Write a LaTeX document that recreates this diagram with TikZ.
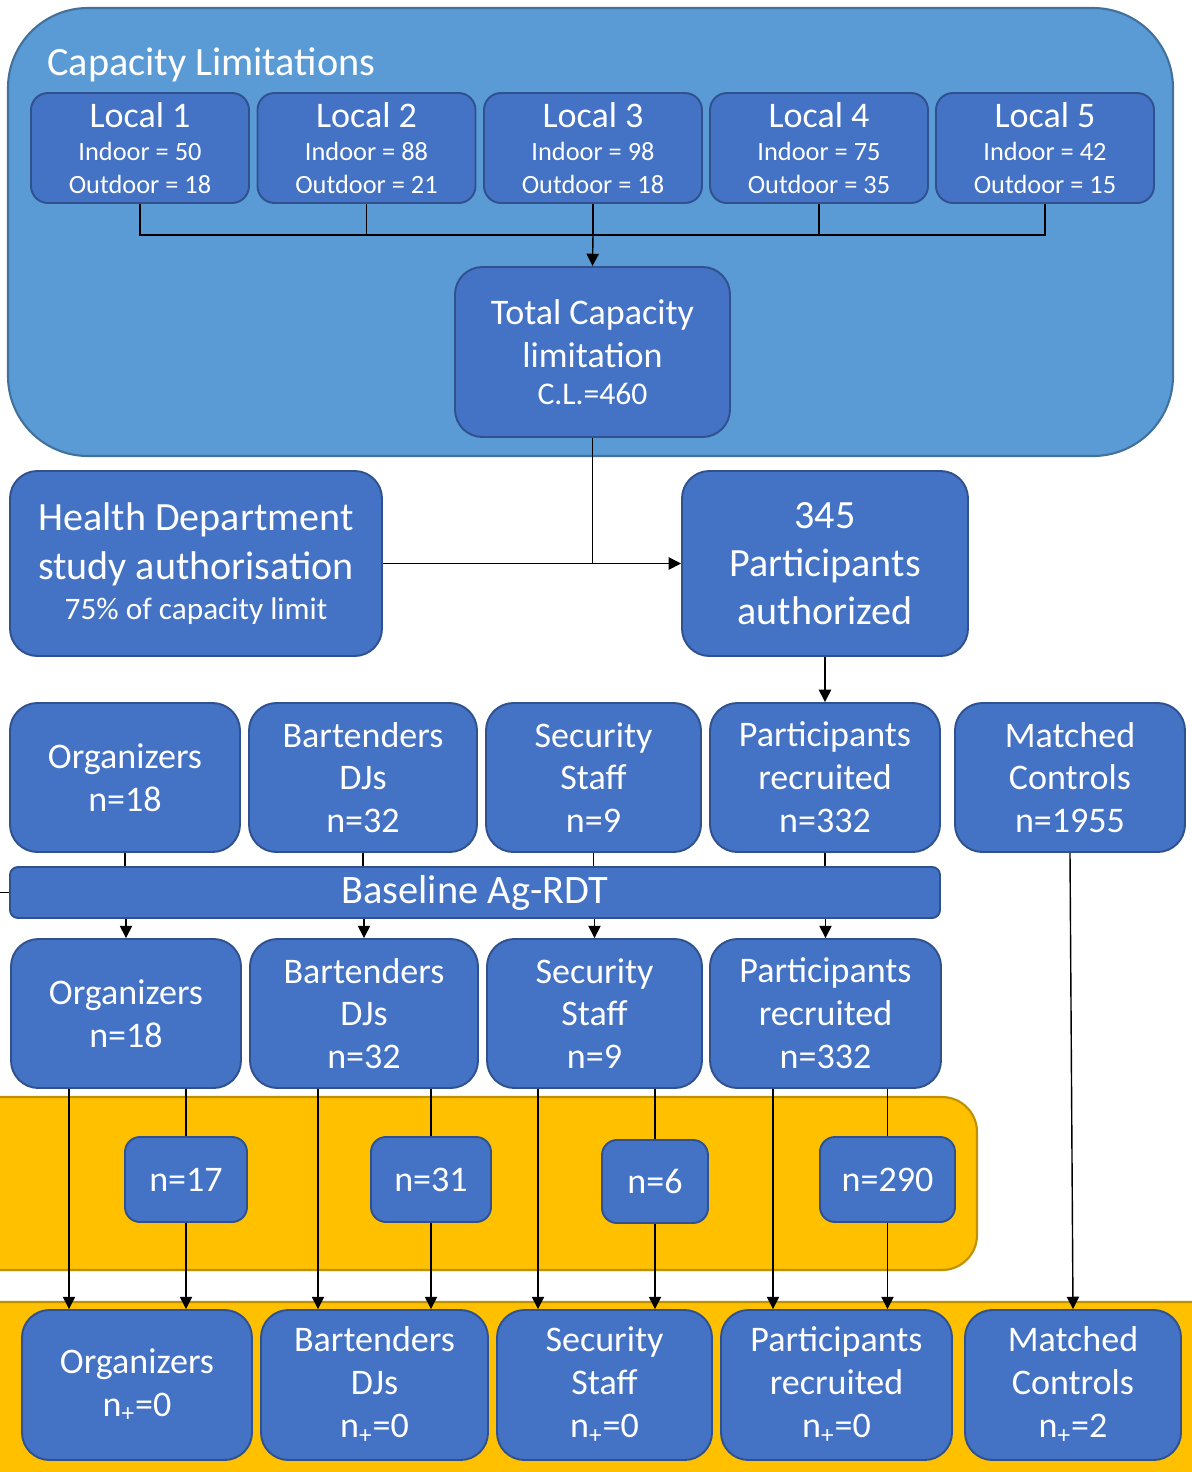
\documentclass[tikz,border=0pt]{standalone}
\usepackage{fontspec}
\setmainfont{Carlito}
\usetikzlibrary{arrows.meta}
\definecolor{boxblue}{HTML}{4472C4}
\definecolor{boxedge}{HTML}{2F528F}
\definecolor{capblue}{HTML}{5B9BD5}
\definecolor{capedge}{HTML}{41719C}
\definecolor{testyellow}{HTML}{FFC000}
\definecolor{testedge}{HTML}{BF9000}
\newcommand{\fs}[2]{\fontsize{#1}{#2}\selectfont}

\begin{document}
\begin{tikzpicture}[x=0.02cm, y=-0.02cm,
	sz/.style 2 args={minimum width=#1*0.02cm, minimum height=#2*0.02cm},
	box/.style={draw=boxedge, fill=boxblue, line width=1.1pt, rounded corners=0.55cm,
		text=white, align=center, inner sep=0pt, font=\fs{20.5}{24.4}},
	local/.style={box, rounded corners=0.34cm, sz={218}{110}, font=\fs{15}{19}},
	small/.style={box, rounded corners=0.3cm},
	arr/.style={-{Triangle[width=7pt,length=7pt]}},
	conn/.style={line width=0.8pt, black}]
	\useasboundingbox (0,0) rectangle (1192,1472);
	\clip (0,0) rectangle (1192,1472);

	% backgrounds
	\draw[fill=capblue, draw=capedge, line width=1.2pt, rounded corners=1.6cm] (8,8) rectangle (1173,456);
	\draw[fill=testyellow, draw=testedge, line width=1.2pt, rounded corners=0.7cm] (-40,1097) rectangle (977,1270);
	\draw[fill=testyellow, draw=testedge, line width=1.2pt, rounded corners=0.7cm] (-40,1302) rectangle (1232,1540);
	\node[anchor=base west, inner sep=0pt, text=white, font=\fs{22.9}{22.9}] (caption) at (47,75) {Capacity Limitations};

	% locals
	\node[local] (local1) at (140,148)   {{\fs{20.5}{20.5}Local 1}\\ Indoor = 50\\ Outdoor = 18};
	\node[local] (local2) at (366.5,148) {{\fs{20.5}{20.5}Local 2}\\ Indoor = 88\\ Outdoor = 21};
	\node[local] (local3) at (593,148)   {{\fs{20.5}{20.5}Local 3}\\ Indoor = 98\\ Outdoor = 18};
	\node[local] (local4) at (819,148)   {{\fs{20.5}{20.5}Local 4}\\ Indoor = 75\\ Outdoor = 35};
	\node[local] (local5) at (1045,148)  {{\fs{20.5}{20.5}Local 5}\\ Indoor = 42\\ Outdoor = 15};

	\node[box, sz={275}{170}] (total) at (592.5,352) {Total Capacity\\ limitation\\[-3pt] {\fs{18}{18}C.L.=460}};
	\node[box, sz={372}{185}, font=\fs{22.8}{27.8}] (health) at (196,563.5) {Health Department\\ study authorisation\\[-5pt] {\fs{17.8}{17.8}75\% of capacity limit}};
	\node[box, sz={286}{185}, font=\fs{22.8}{27.5}] (auth) at (825,563.5) {345\\ Participants\\ authorized};

	% recruited groups
	\node[box, sz={230}{149}] (org1) at (125,777.5)  {Organizers\\ n=18};
	\node[box, sz={228}{149}] (bar1) at (363,777.5)  {Bartenders\\ DJs\\ n=32};
	\node[box, sz={215}{149}] (sec1) at (593.5,777.5) {Security\\ Staff\\ n=9};
	\node[box, sz={230}{149}] (par1) at (825,777.5)  {Participants\\ recruited\\ n=332};
	\node[box, sz={230}{149}] (mat1) at (1070,777.5) {Matched\\ Controls\\ n=1955};

	\node[box, rounded corners=0.16cm, sz={930}{51}, font=\fs{23}{23}] (base) at (475,892.5) {Baseline Ag-RDT};

	\node[box, sz={230}{149}] (org2) at (126,1013.5)   {Organizers\\ n=18};
	\node[box, sz={228}{149}] (bar2) at (364,1013.5)   {Bartenders\\ DJs\\ n=32};
	\node[box, sz={215}{149}] (sec2) at (594.5,1013.5) {Security\\ Staff\\ n=9};
	\node[box, sz={231}{149}] (par2) at (825.5,1013.5) {Participants\\ recruited\\ n=332};

	\node[small, sz={122}{85}] (n17)  at (186,1179.5)   {n=17};
	\node[small, sz={120}{85}] (n31)  at (431,1179.5)   {n=31};
	\node[small, sz={106}{83}] (n6)   at (655,1181.5)   {n=6};
	\node[small, sz={135}{85}] (n290) at (887.5,1179.5) {n=290};

	\node[box, sz={230}{150}] (org3) at (137,1385)   {Organizers\\ n\textsubscript{+}=0};
	\node[box, sz={227}{150}] (bar3) at (374.5,1385) {Bartenders\\ DJs\\ n\textsubscript{+}=0};
	\node[box, sz={215}{150}] (sec3) at (604.5,1385) {Security\\ Staff\\ n\textsubscript{+}=0};
	\node[box, sz={231}{150}] (par3) at (836.5,1385) {Participants\\ recruited\\ n\textsubscript{+}=0};
	\node[box, sz={216}{150}] (mat3) at (1073,1385)  {Matched\\ Controls\\ n\textsubscript{+}=2};

	% connectors
	\coordinate (hub) at (593,235);
	\foreach \n in {local1,local2,local3,local4,local5}
		\draw[conn] (\n.south) |- (hub);
	\draw[conn, arr] (hub) -- (total.north);

	\coordinate (join) at (total.south |- auth.west);
	\draw[conn] (total.south) -- (join);
	\draw[conn] (health.east) -- (join);
	\draw[conn, arr] (join) -- (auth.west);
	\draw[conn, arr] (auth.south) -- (par1.north);

	\coordinate (stub) at (-10,892.5);
	\draw[conn] (base.west) -- (stub);
	\foreach \g in {org,bar,sec,par} {
		\draw[conn] (\g1.south) -- (\g1.south |- base.north);
		\draw[conn, arr] (\g2.north |- base.south) -- (\g2.north);
	}
	\draw[conn, arr] (mat1.south) -- (mat3.north);

	\foreach \g/\x/\s in {org/69/n17, bar/318/n31, sec/538/n6, par/773/n290} {
		\draw[conn, arr] (\x,0 |- \g2.south) -- (\x,0 |- \g3.north);
		\draw[conn] (\s.north |- \g2.south) -- (\s.north);
		\draw[conn, arr] (\s.south) -- (\s.south |- \g3.north);
	}
\end{tikzpicture}
\end{document}
